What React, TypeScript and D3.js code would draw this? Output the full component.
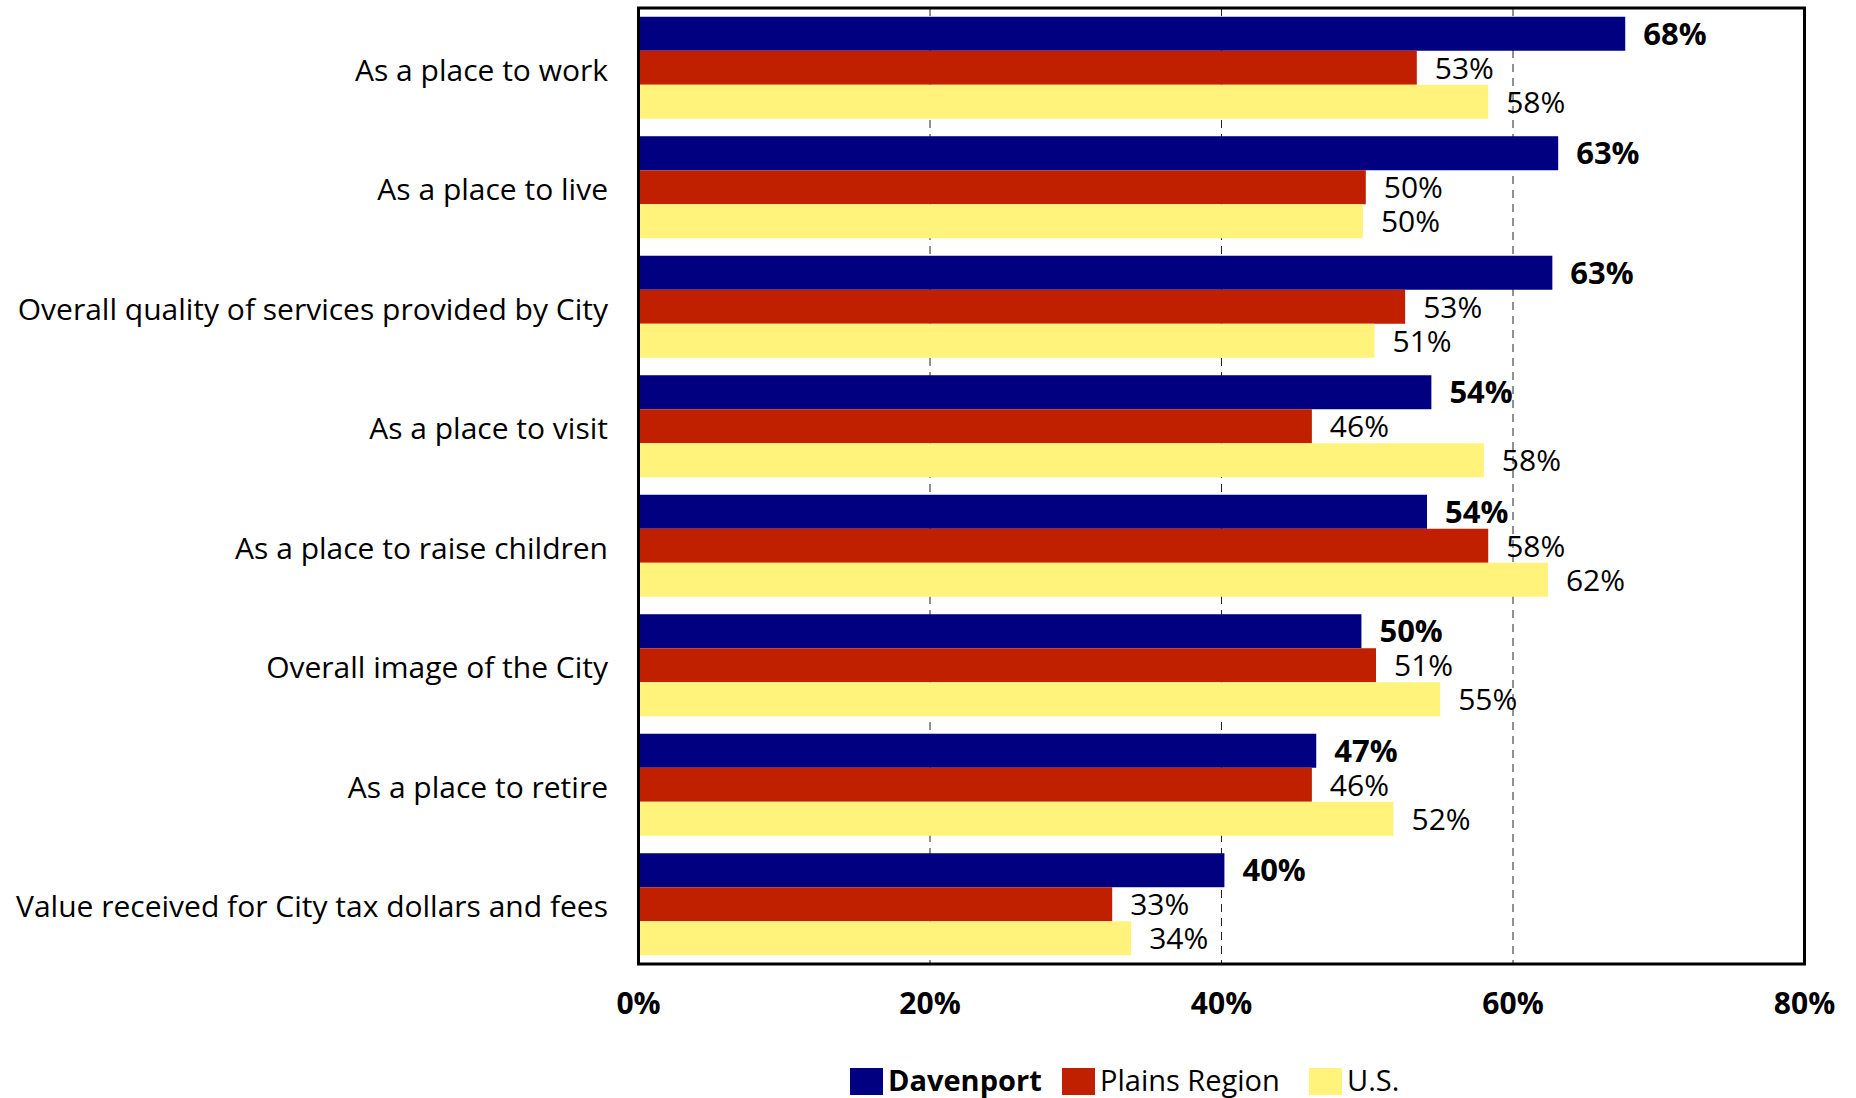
import React from "react";
import * as d3 from "d3";

const categories = [
  "As a place to work",
  "As a place to live",
  "Overall quality of services provided by City",
  "As a place to visit",
  "As a place to raise children",
  "Overall image of the City",
  "As a place to retire",
  "Value received for City tax dollars and fees",
];
const seriesNames = ["Davenport", "Plains Region", "U.S."];
const davenport = [67.7, 63.1, 62.7, 54.4, 54.1, 49.6, 46.5, 40.2];
const plains = [53.4, 49.9, 52.6, 46.2, 58.3, 50.6, 46.2, 32.5];
const us = [58.3, 49.7, 50.5, 58.0, 62.4, 55.0, 51.8, 33.8];
const davenportLabels = ["68%", "63%", "63%", "54%", "54%", "50%", "47%", "40%"];
const plainsLabels = ["53%", "50%", "53%", "46%", "58%", "51%", "46%", "33%"];
const usLabels = ["58%", "50%", "51%", "58%", "62%", "55%", "52%", "34%"];
const xTicks = [0, 20, 40, 60, 80];
const colors = ["#000080", "#C01F00", "#FFF37C"];

const FONT = "'Open Sans', sans-serif";

export default function App() {
  const W = 1856, H = 1098;
  const left = 638.5, right = 1804.5, top = 8, bottom = 964;
  const x = d3.scaleLinear().domain([0, 80]).range([left, right]);
  const y = d3.scaleBand<string>().domain(categories).range([top, bottom]).padding(0);
  const sub = d3.scaleBand<string>().domain(seriesNames).range([0, y.bandwidth()])
    .paddingInner(0).paddingOuter(0.257);
  const values = [davenport, plains, us];
  const labels = [davenportLabels, plainsLabels, usLabels];

  const legendItems = [
    { name: "Davenport", x: 850, bold: true },
    { name: "Plains Region", x: 1062, bold: false },
    { name: "U.S.", x: 1309, bold: false },
  ];

  return (
    <svg width={W} height={H} style={{ position: "absolute", left: 0, top: 0, background: "#fff" }}
      fontFamily={FONT}>
      <rect x={0} y={0} width={W} height={H} fill="#fff" />
      {/* gridlines */}
      {xTicks.filter(t => t > 0 && t < 80).map(t => (
        <line key={t} x1={x(t)} x2={x(t)} y1={top} y2={bottom} stroke="#222"
          strokeWidth={1} strokeDasharray="8,6" />
      ))}
      {/* bars */}
      {categories.map((c, i) => (
        <g key={c}>
          {seriesNames.map((s, j) => (
            <rect key={s} x={x(0)} y={(y(c) as number) + (sub(s) as number)}
              width={x(values[j][i]) - x(0)} height={sub.bandwidth()} fill={colors[j]} />
          ))}
        </g>
      ))}
      {/* value labels */}
      {categories.map((c, i) => (
        <g key={c + "l"}>
          {seriesNames.map((s, j) => (
            <text key={s} x={x(values[j][i]) + 18}
              y={(y(c) as number) + (sub(s) as number) + sub.bandwidth() / 2}
              dy="0.36em" fontSize={j === 0 ? 31 : 30} fontWeight={j === 0 ? 700 : 400}
              fill="#000">{labels[j][i]}</text>
          ))}
        </g>
      ))}
      {/* frame */}
      <rect x={left} y={top} width={right - left} height={bottom - top} fill="none"
        stroke="#000" strokeWidth={3} />
      {/* category labels */}
      {categories.map(c => (
        <text key={c} x={608} y={(y(c) as number) + y.bandwidth() / 2 + 2} dy="0.36em"
          textAnchor="end" fontSize={30} fill="#000">{c}</text>
      ))}
      {/* x tick labels */}
      {xTicks.map(t => (
        <text key={t} x={x(t)} y={1003} dy="0.36em" textAnchor="middle" fontSize={30}
          fontWeight={700} fill="#000">{t + "%"}</text>
      ))}
      {/* legend */}
      {legendItems.map((l, i) => (
        <g key={l.name}>
          <rect x={l.x} y={1068} width={33} height={27} fill={colors[i]} />
          <text x={l.x + 38} y={1081} dy="0.36em" fontSize={29} fontWeight={l.bold ? 700 : 400}
            fill="#000">{l.name}</text>
        </g>
      ))}
    </svg>
  );
}
